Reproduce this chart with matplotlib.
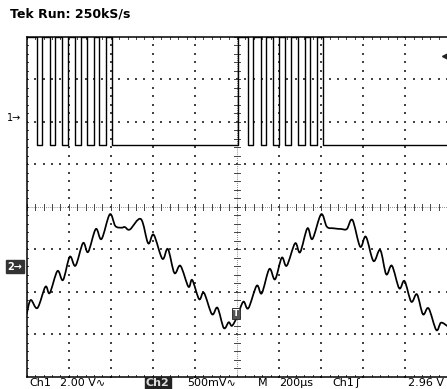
import numpy as np
import matplotlib
matplotlib.use("Agg")
import matplotlib.pyplot as plt
from matplotlib.path import Path
from matplotlib.patches import PathPatch

# ---------------- data (screen divisions: time -5..5, volts -4..4) -------------
# Channel 2 (analog, 500 mV/div) trace vertices
ch2_t = [-5.000, -4.905, -4.745, -4.555, -4.452, -4.269, -4.136, -3.976, -3.840,
         -3.660, -3.540, -3.357, -3.221, -3.024, -2.893, -2.745, -2.667, -2.548,
         -2.286, -2.112, -1.981, -1.774, -1.643, -1.488, -1.345, -1.155, -1.064,
         -0.900, -0.786, -0.595, -0.464, -0.314, -0.198, -0.119, 0.000, 0.150,
         0.269, 0.469, 0.588, 0.769, 0.905, 1.064, 1.183, 1.381, 1.500, 1.674,
         1.793, 2.000, 2.136, 2.293, 2.476, 2.612, 2.745, 2.929, 3.064, 3.245,
         3.405, 3.548, 3.683, 3.857, 3.983, 4.143, 4.279, 4.421, 4.555, 4.738,
         4.850, 5.000]
ch2_v = [-2.520, -2.191, -2.379, -1.879, -2.027, -1.510, -1.721, -1.174, -1.385,
         -0.852, -1.063, -0.523, -0.758, -0.177, -0.452, -0.492, -0.476, -0.535,
         -0.288, -0.859, -0.657, -1.223, -0.993, -1.557, -1.387, -1.879, -1.721,
         -2.172, -2.022, -2.525, -2.374, -2.849, -2.713, -2.797, -2.590, -2.231,
         -2.386, -1.855, -2.034, -1.463, -1.705, -1.197, -1.385, -0.859, -1.070,
         -0.506, -0.758, -0.177, -0.469, -0.506, -0.523, -0.523, -0.311, -0.939,
         -0.704, -1.275, -1.016, -1.587, -1.385, -1.916, -1.745, -2.231, -2.057,
         -2.527, -2.386, -2.896, -2.724, -2.802]

# Channel 1 (digital, 2 V/div): transition times and levels (steps-post)
ch1_t = [-5.000, -4.750, -4.643, -4.452, -4.333, -4.155, -4.012, -3.857, -3.702,
         -3.560, -3.405, -3.274, -3.119, -2.976, 0.024, 0.262, 0.381, 0.560,
         0.679, 0.845, 1.000, 1.143, 1.286, 1.440, 1.619, 1.738, 1.905, 2.036,
         5.000]
ch1_v = [3.99, 1.45, 3.99, 1.45, 3.99, 1.45, 3.99, 1.45, 3.99,
         1.45, 3.99, 1.45, 3.99, 1.45, 3.99, 1.45, 3.99, 1.45,
         3.99, 1.45, 3.99, 1.45, 3.99, 1.45, 3.99, 1.45, 3.99, 1.45,
         1.45]

ch1_ground = 2.085
ch2_ground = -1.41
trig_point = (0.0, -2.50)
trig_level = 3.55

title = "Tek Run: 250kS/s"
status = [("Ch1", 29), ("2.00 V\u223f", 60), ("Ch2", 146), ("500mV\u223f", 187),
          ("M", 258), ("200\u00b5s", 279), ("Ch1", 332), ("\u0283", 355),
          ("2.96 V", 408)]

# ---------------- figure ------------------------------------------------------
W, H = 447, 389
fig = plt.figure(figsize=(W / 100, H / 100), dpi=100)
fig.patch.set_facecolor("white")
L, R, T, B = 26.7, 447.3, 36.5, 377.0
ax = fig.add_axes([L / W, 1 - B / H, (R - L) / W, (B - T) / H])
ax.set_xlim(-5, 5)
ax.set_ylim(-4, 4)
ax.axis("off")

gc = "#444444"
# dotted graticule
steps_y = np.round(np.arange(-4, 4.001, 0.2), 3)
steps_x = np.round(np.arange(-5, 5.001, 0.2), 3)
for k in range(-4, 5):
    if k == 0:
        continue
    ax.scatter(np.full_like(steps_y, k), steps_y, s=0.6, marker="s", color=gc,
               linewidths=0, zorder=1)
for j in range(-3, 4):
    if j == 0:
        continue
    ax.scatter(steps_x, np.full_like(steps_x, j), s=0.6, marker="s", color=gc,
               linewidths=0, zorder=1)
# centre lines with minor ticks
ax.plot([-5, 5], [0, 0], color="#666666", lw=0.6, ls=(0, (1, 1.5)), zorder=1)
ax.plot([0, 0], [-4, 4], color="#666666", lw=0.6, ls=(0, (1, 1.5)), zorder=1)
tick_h = 0.075
for x in steps_x:
    ax.plot([x, x], [-tick_h, tick_h], color=gc, lw=0.7, zorder=1)
for y in steps_y:
    ax.plot([-tick_h * 0.8, tick_h * 0.8], [y, y], color=gc, lw=0.7, zorder=1)
# border ticks
for x in steps_x:
    ax.plot([x, x], [4, 4 - 0.05], color=gc, lw=0.7, zorder=1)
    ax.plot([x, x], [-4, -4 + 0.05], color=gc, lw=0.7, zorder=1)
for y in steps_y:
    ax.plot([-5, -5 + 0.04], [y, y], color=gc, lw=0.7, zorder=1)
# frame (left, top, bottom)
ax.plot([-5, -5], [-4, 4], color="black", lw=1.1, clip_on=False, zorder=3)
ax.plot([-5, 5], [4, 4], color="black", lw=1.1, clip_on=False, zorder=3)
ax.plot([-5, 5], [-4, -4], color="black", lw=1.1, clip_on=False, zorder=3)

# channel 1 trace
ax.plot(ch1_t, ch1_v, drawstyle="steps-post", color="black", lw=1.0, zorder=4)

# channel 2 trace drawn as a smooth curve through the vertices (Catmull-Rom -> Bezier)
P = np.column_stack([ch2_t, ch2_v])
Pext = np.vstack([P[0], P, P[-1]])
verts = [tuple(P[0])]
codes = [Path.MOVETO]
for i in range(len(P) - 1):
    p0, p1, p2, p3 = Pext[i], Pext[i + 1], Pext[i + 2], Pext[i + 3]
    c1 = p1 + (p2 - p0) / 6.0
    c2 = p2 - (p3 - p1) / 6.0
    verts += [tuple(c1), tuple(c2), tuple(p2)]
    codes += [Path.CURVE4] * 3
ax.add_patch(PathPatch(Path(verts, codes), fill=False, ec="black", lw=1.25,
                       zorder=4, joinstyle="round", capstyle="round"))

# markers
ax.plot([4.95], [trig_level], marker="<", ms=4, color="#222222", zorder=5)
ax.text(trig_point[0] - 0.02, trig_point[1], "T", ha="center", va="center",
        fontsize=6.5, color="white", weight="bold", zorder=6,
        bbox=dict(boxstyle="square,pad=0.12", fc="#555555", ec="#222222", lw=0.6))
ax.text(-5.12, ch1_ground, "1\u2192", ha="right", va="center", fontsize=7,
        color="black")
ax.text(-5.1, ch2_ground, "2\u2192", ha="right", va="center", fontsize=7,
        color="white", weight="bold",
        bbox=dict(boxstyle="square,pad=0.15", fc="#333333", ec="#333333"))

fig.text(10 / W, 1 - 14 / H, title, ha="left", va="center", fontsize=9,
         color="black", weight="bold")
for s, x in status:
    if s == "Ch2" and x == 146:
        fig.text(x / W, 1 - 383 / H, s, ha="left", va="center", fontsize=8,
                 color="#dddddd", weight="bold",
                 bbox=dict(boxstyle="square,pad=0.1", fc="#222222", ec="#222222"))
    else:
        fig.text(x / W, 1 - 383 / H, s, ha="left", va="center", fontsize=8,
                 color="black")

fig.savefig("out.png", dpi=100, facecolor="white")
